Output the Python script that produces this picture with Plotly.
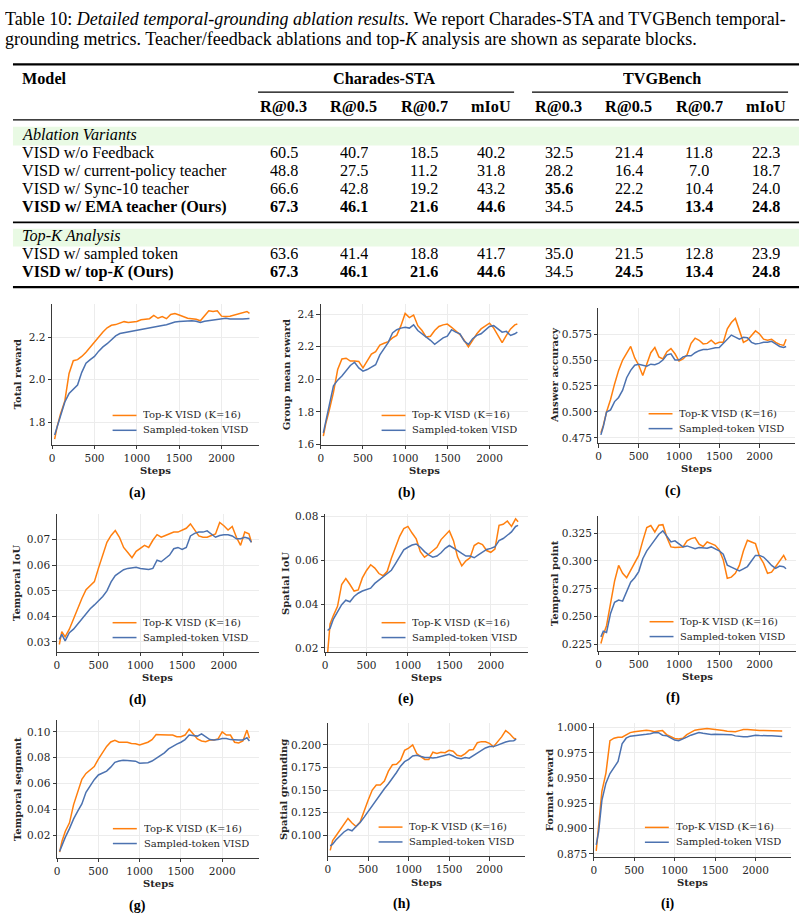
import plotly.graph_objects as go

W, H = 807, 923
ORANGE = "#ff7f0e"
BLUE = "#4c72b0"
PLOT_FONT = "DejaVu Serif, serif"
TEXT_FONT = "Liberation Serif, Times New Roman, Tinos, Nimbus Roman, Times, serif"
INK = "#262626"

# ---------------- table data ----------------
TITLE_LINE1 = "Table 10: <i>Detailed temporal-grounding ablation results.</i> We report Charades-STA and TVGBench temporal-"
TITLE_LINE2 = "grounding metrics. Teacher/feedback ablations and top-<i>K</i> analysis are shown as separate blocks."
DATASETS = ["Charades-STA", "TVGBench"]
METRICS = ["R@0.3", "R@0.5", "R@0.7", "mIoU"]

BLOCK1_TITLE = "Ablation Variants"
BLOCK1_MODELS = ["VISD w/o Feedback", "VISD w/ current-policy teacher",
                 "VISD w/ Sync-10 teacher", "<b>VISD w/ EMA teacher (Ours)</b>"]
BLOCK1_CHARADES = [[60.5, 40.7, 18.5, 40.2], [48.8, 27.5, 11.2, 31.8],
                   [66.6, 42.8, 19.2, 43.2], [67.3, 46.1, 21.6, 44.6]]
BLOCK1_TVG = [[32.5, 21.4, 11.8, 22.3], [28.2, 16.4, 7.0, 18.7],
              [35.6, 22.2, 10.4, 24.0], [34.5, 24.5, 13.4, 24.8]]
BLOCK1_BOLD_CH = [[0, 0, 0, 0], [0, 0, 0, 0], [0, 0, 0, 0], [1, 1, 1, 1]]
BLOCK1_BOLD_TVG = [[0, 0, 0, 0], [0, 0, 0, 0], [1, 0, 0, 0], [0, 1, 1, 1]]

BLOCK2_TITLE = "Top-<i>K</i> Analysis"
BLOCK2_MODELS = ["VISD w/ sampled token", "<b>VISD w/ top-<i>K</i> (Ours)</b>"]
BLOCK2_CHARADES = [[63.6, 41.4, 18.8, 41.7], [67.3, 46.1, 21.6, 44.6]]
BLOCK2_TVG = [[35.0, 21.5, 12.8, 23.9], [34.5, 24.5, 13.4, 24.8]]
BLOCK2_BOLD_CH = [[0, 0, 0, 0], [1, 1, 1, 1]]
BLOCK2_BOLD_TVG = [[0, 0, 0, 0], [0, 1, 1, 1]]

# ---------------- curve data ----------------
STEPS = [30, 60, 100, 150, 200, 250, 300, 350, 400, 450,
         500, 550, 600, 650, 700, 750, 800, 850, 900, 950,
         1000, 1050, 1100, 1150, 1200, 1250, 1300, 1350, 1400, 1450,
         1500, 1550, 1600, 1650, 1700, 1750, 1800, 1850, 1900, 1950,
         2000, 2050, 2100, 2150, 2200, 2250, 2300, 2330]

SERIES_NAMES = ["Top-K VISD (K=16)", "Sampled-token VISD"]

TOTAL_TOPK = [1.72, 1.78, 1.84, 1.90, 2.03, 2.09, 2.095, 2.11, 2.13, 2.155,
              2.175, 2.20, 2.225, 2.245, 2.257, 2.26, 2.268, 2.274, 2.27, 2.272,
              2.275, 2.283, 2.285, 2.288, 2.303, 2.29, 2.298, 2.288, 2.308, 2.312,
              2.305, 2.298, 2.29, 2.288, 2.285, 2.278, 2.30, 2.325, 2.322, 2.325,
              2.30, 2.298, 2.30, 2.306, 2.312, 2.315, 2.322, 2.313]
TOTAL_SAMPLED = [1.74, 1.78, 1.84, 1.895, 1.935, 1.955, 1.975, 2.035, 2.078, 2.095,
                 2.11, 2.135, 2.155, 2.17, 2.19, 2.207, 2.218, 2.222, 2.226, 2.231,
                 2.233, 2.237, 2.242, 2.245, 2.25, 2.254, 2.256, 2.259, 2.266, 2.272,
                 2.275, 2.277, 2.278, 2.278, 2.276, 2.27, 2.276, 2.279, 2.281, 2.287,
                 2.289, 2.29, 2.286, 2.285, 2.286, 2.287, 2.29, 2.289]

GROUP_TOPK = [1.65, 1.73, 1.81, 1.92, 2.06, 2.125, 2.13, 2.112, 2.112, 2.11,
              2.07, 2.11, 2.155, 2.17, 2.21, 2.222, 2.232, 2.255, 2.27, 2.33,
              2.405, 2.38, 2.395, 2.33, 2.30, 2.26, 2.265, 2.30, 2.325, 2.335,
              2.34, 2.32, 2.30, 2.275, 2.24, 2.20, 2.24, 2.28, 2.31, 2.33,
              2.345, 2.315, 2.27, 2.225, 2.27, 2.31, 2.335, 2.34]
GROUP_SAMPLED = [1.67, 1.75, 1.84, 1.96, 1.995, 2.02, 2.05, 2.085, 2.105, 2.07,
                 2.05, 2.06, 2.075, 2.09, 2.15, 2.185, 2.227, 2.285, 2.305, 2.315,
                 2.32, 2.315, 2.335, 2.30, 2.28, 2.265, 2.24, 2.215, 2.235, 2.255,
                 2.265, 2.305, 2.29, 2.28, 2.235, 2.215, 2.25, 2.27, 2.28, 2.30,
                 2.325, 2.33, 2.31, 2.29, 2.295, 2.27, 2.28, 2.29]

ANSWER_TOPK = [0.480, 0.487, 0.500, 0.512, 0.527, 0.540, 0.550, 0.557, 0.563, 0.552,
               0.545, 0.535, 0.546, 0.557, 0.562, 0.553, 0.551, 0.558, 0.561, 0.556,
               0.549, 0.551, 0.555, 0.566, 0.571, 0.569, 0.5655, 0.566, 0.569, 0.5655,
               0.567, 0.567, 0.580, 0.586, 0.590, 0.578, 0.567, 0.569, 0.574, 0.578,
               0.575, 0.570, 0.569, 0.570, 0.567, 0.565, 0.564, 0.570]
ANSWER_SAMPLED = [0.478, 0.486, 0.500, 0.502, 0.510, 0.514, 0.521, 0.533, 0.540, 0.545,
                  0.546, 0.545, 0.544, 0.546, 0.5455, 0.547, 0.550, 0.555, 0.556, 0.550,
                  0.550, 0.553, 0.554, 0.554, 0.557, 0.559, 0.560, 0.560, 0.561, 0.5617,
                  0.562, 0.566, 0.571, 0.574, 0.572, 0.570, 0.5718, 0.5715, 0.567, 0.5655,
                  0.566, 0.567, 0.567, 0.568, 0.5655, 0.563, 0.562, 0.563]

TIOU_TOPK = [0.029, 0.034, 0.032, 0.035, 0.039, 0.0433, 0.047, 0.0505, 0.052, 0.0536,
             0.059, 0.0645, 0.069, 0.0717, 0.0736, 0.071, 0.067, 0.065, 0.063, 0.0655,
             0.0665, 0.0678, 0.067, 0.0698, 0.072, 0.071, 0.0717, 0.0723, 0.073, 0.073,
             0.0736, 0.0745, 0.0762, 0.074, 0.0715, 0.071, 0.071, 0.0717, 0.0723, 0.0768,
             0.0755, 0.0738, 0.0752, 0.071, 0.0678, 0.073, 0.0723, 0.069]
TIOU_SAMPLED = [0.031, 0.033, 0.0304, 0.0336, 0.035, 0.037, 0.039, 0.0414, 0.043, 0.0445,
                0.0462, 0.0478, 0.050, 0.0535, 0.056, 0.0572, 0.0583, 0.0588, 0.059, 0.0592,
                0.0588, 0.0585, 0.0584, 0.0588, 0.062, 0.0614, 0.0626, 0.064, 0.0665, 0.067,
                0.0662, 0.067, 0.0715, 0.0725, 0.073, 0.073, 0.0735, 0.0722, 0.071, 0.0717,
                0.072, 0.072, 0.0715, 0.0704, 0.0704, 0.071, 0.0705, 0.069]

SIOU_TOPK = [0.0175, 0.031, 0.0348, 0.039, 0.049, 0.0517, 0.049, 0.046, 0.0465, 0.052,
             0.0554, 0.058, 0.0565, 0.054, 0.053, 0.055, 0.061, 0.0665, 0.071, 0.0745,
             0.0755, 0.0725, 0.0698, 0.064, 0.0615, 0.0628, 0.0645, 0.066, 0.0695, 0.0715,
             0.0735, 0.069, 0.0615, 0.0575, 0.0598, 0.0612, 0.0668, 0.068, 0.0672, 0.0645,
             0.0637, 0.0652, 0.076, 0.0765, 0.078, 0.0755, 0.079, 0.0777]
SIOU_SAMPLED = [0.028, 0.029, 0.0332, 0.0368, 0.0398, 0.0418, 0.0411, 0.0435, 0.045, 0.046,
                0.0468, 0.0473, 0.0495, 0.051, 0.0525, 0.054, 0.0555, 0.0585, 0.0618, 0.0648,
                0.066, 0.067, 0.0675, 0.066, 0.064, 0.0625, 0.0615, 0.062, 0.0635, 0.0655,
                0.0668, 0.0658, 0.0645, 0.0632, 0.062, 0.062, 0.0612, 0.0625, 0.0638, 0.065,
                0.0655, 0.0662, 0.069, 0.070, 0.0715, 0.073, 0.0755, 0.076]

TPOINT_TOPK = [0.226, 0.234, 0.242, 0.262, 0.282, 0.296, 0.289, 0.285, 0.292, 0.298,
               0.305, 0.318, 0.330, 0.3318, 0.326, 0.332, 0.3325, 0.321, 0.3126, 0.312,
               0.312, 0.3125, 0.318, 0.320, 0.321, 0.315, 0.313, 0.317, 0.3155, 0.314,
               0.310, 0.301, 0.2845, 0.2855, 0.289, 0.296, 0.309, 0.3185, 0.317, 0.3155,
               0.304, 0.298, 0.289, 0.290, 0.2948, 0.300, 0.305, 0.3007]
TPOINT_SAMPLED = [0.232, 0.237, 0.236, 0.253, 0.263, 0.265, 0.264, 0.272, 0.281, 0.285,
                  0.2905, 0.302, 0.309, 0.314, 0.319, 0.324, 0.327, 0.3215, 0.317, 0.318,
                  0.3155, 0.3126, 0.3135, 0.3125, 0.311, 0.312, 0.312, 0.3115, 0.3126, 0.311,
                  0.309, 0.306, 0.2963, 0.2945, 0.2925, 0.291, 0.293, 0.295, 0.300, 0.305,
                  0.305, 0.3035, 0.300, 0.296, 0.2933, 0.2955, 0.2948, 0.293]

TSEG_TOPK = [0.0075, 0.016, 0.0235, 0.030, 0.044, 0.0543, 0.0635, 0.068, 0.0705, 0.0733,
             0.079, 0.084, 0.0888, 0.0922, 0.0935, 0.092, 0.0918, 0.092, 0.0911, 0.0908,
             0.0898, 0.091, 0.092, 0.094, 0.098, 0.0978, 0.0975, 0.0975, 0.0975, 0.0962,
             0.0962, 0.0975, 0.102, 0.098, 0.0945, 0.093, 0.0924, 0.0937, 0.0937, 0.0945,
             0.100, 0.0975, 0.0975, 0.092, 0.0915, 0.093, 0.1013, 0.095]
TSEG_SAMPLED = [0.008, 0.013, 0.019, 0.0255, 0.033, 0.039, 0.0445, 0.0535, 0.0585, 0.0632,
                0.0668, 0.0685, 0.0698, 0.0728, 0.0765, 0.0776, 0.0782, 0.078, 0.0776, 0.0774,
                0.0759, 0.0759, 0.0762, 0.0775, 0.0795, 0.0815, 0.0838, 0.0868, 0.089, 0.0905,
                0.092, 0.094, 0.0975, 0.0972, 0.0967, 0.0985, 0.096, 0.094, 0.0937, 0.094,
                0.0949, 0.0949, 0.094, 0.0937, 0.0937, 0.0937, 0.0954, 0.093]

SGROUND_TOPK = [0.083, 0.094, 0.099, 0.1055, 0.1125, 0.1185, 0.1135, 0.1095, 0.1145, 0.128,
                0.139, 0.150, 0.1555, 0.1555, 0.160, 0.171, 0.178, 0.1785, 0.183, 0.194,
                0.1965, 0.200, 0.1905, 0.187, 0.184, 0.184, 0.192, 0.1905, 0.192, 0.1915,
                0.194, 0.193, 0.1885, 0.1875, 0.1905, 0.1945, 0.195, 0.2025, 0.2037, 0.2035,
                0.2018, 0.198, 0.203, 0.209, 0.216, 0.2125, 0.2075, 0.2066]
SGROUND_SAMPLED = [0.088, 0.090, 0.0945, 0.099, 0.1035, 0.1065, 0.1048, 0.1095, 0.114, 0.120,
                   0.1265, 0.1328, 0.1382, 0.145, 0.1515, 0.157, 0.163, 0.1695, 0.1765, 0.1815,
                   0.184, 0.1878, 0.1885, 0.187, 0.1861, 0.1861, 0.1855, 0.1862, 0.1875, 0.189,
                   0.1897, 0.1878, 0.1855, 0.1848, 0.186, 0.1853, 0.188, 0.191, 0.194, 0.1967,
                   0.1982, 0.1982, 0.1998, 0.2018, 0.2033, 0.2044, 0.2048, 0.2066]

FORMAT_TOPK = [0.878, 0.905, 0.937, 0.955, 0.987, 0.9895, 0.9905, 0.9905, 0.993, 0.995,
               0.9958, 0.9962, 0.9968, 0.9974, 0.9968, 0.9958, 0.9965, 0.997, 0.993, 0.991,
               0.9892, 0.9886, 0.9895, 0.993, 0.9955, 0.9974, 0.998, 0.9985, 0.999, 0.9987,
               0.9984, 0.9978, 0.9972, 0.9964, 0.996, 0.9958, 0.997, 0.998, 0.998, 0.9975,
               0.9972, 0.997, 0.9971, 0.9971, 0.9968, 0.9968, 0.9967, 0.9967]
FORMAT_SAMPLED = [0.884, 0.897, 0.928, 0.945, 0.9545, 0.960, 0.9665, 0.984, 0.9895, 0.9915,
                  0.9918, 0.9925, 0.9931, 0.9934, 0.994, 0.9951, 0.995, 0.9925, 0.992, 0.990,
                  0.9876, 0.987, 0.9885, 0.9905, 0.9925, 0.9937, 0.9951, 0.9943, 0.9935, 0.9932,
                  0.9935, 0.9935, 0.9935, 0.9932, 0.993, 0.9918, 0.9912, 0.9909, 0.9909, 0.9915,
                  0.9925, 0.9922, 0.9918, 0.9918, 0.9918, 0.9915, 0.9912, 0.9912]

Y_LABELS = ["Total reward", "Group mean reward", "Answer accuracy", "Temporal IoU",
            "Spatial IoU", "Temporal point", "Temporal segment", "Spatial grounding",
            "Format reward"]
CAPTIONS = ["(a)", "(b)", "(c)", "(d)", "(e)", "(f)", "(g)", "(h)", "(i)"]
X_TICKS = [0, 500, 1000, 1500, 2000]
Y_TICKS = [[1.8, 2.0, 2.2], [1.6, 1.8, 2.0, 2.2, 2.4],
           [0.475, 0.500, 0.525, 0.550, 0.575], [0.03, 0.04, 0.05, 0.06, 0.07],
           [0.02, 0.04, 0.06, 0.08], [0.225, 0.250, 0.275, 0.300, 0.325],
           [0.02, 0.04, 0.06, 0.08, 0.10], [0.100, 0.125, 0.150, 0.175, 0.200],
           [0.875, 0.900, 0.925, 0.950, 0.975, 1.000]]
SERIES = [(TOTAL_TOPK, TOTAL_SAMPLED), (GROUP_TOPK, GROUP_SAMPLED),
          (ANSWER_TOPK, ANSWER_SAMPLED), (TIOU_TOPK, TIOU_SAMPLED),
          (SIOU_TOPK, SIOU_SAMPLED), (TPOINT_TOPK, TPOINT_SAMPLED),
          (TSEG_TOPK, TSEG_SAMPLED), (SGROUND_TOPK, SGROUND_SAMPLED),
          (FORMAT_TOPK, FORMAT_SAMPLED)]

# ---------------- layout geometry (pixels) ----------------
BOXES = [(49.3, 257, 303, 445), (319, 527, 303, 445), (597.7, 795, 306.7, 443.3),
         (54, 257, 515, 654.3), (323.3, 527, 515, 654.3), (597.7, 796, 516.7, 653.3),
         (54.3, 257.3, 723.3, 862.3), (326, 524, 725.7, 860.7), (593, 791.3, 725.7, 861)]
X_MAX = [2443, 2457, 2441, 2421, 2450, 2454, 2450, 2440, 2443]
Y_RANGES = [(1.694, 2.357), (1.598, 2.463), (0.4702, 0.6003), (0.0261, 0.0801),
            (0.0182, 0.0812), (0.2194, 0.3406), (0.003, 0.1089), (0.0765, 0.2248),
            (0.8724, 1.0049)]
Y_FORMATS = [".1f", ".1f", ".3f", ".2f", ".2f", ".3f", ".2f", ".3f", ".3f"]
YLABEL_X = [14, 284, 553.7, 14, 284, 553.7, 14, 281.7, 548.7]
CAPTION_POS = [(135, 494), (405, 494), (672, 491.7), (135, 702.7), (405, 701.7),
               (672, 701), (135, 911), (400, 909), (667, 909)]


def fx(px):
    return px / W


def fy(py):
    return 1 - py / H


fig = go.Figure()
annotations = []
shapes = []


def text(px, py, s, size, family, xanchor="center", weight="normal", color="black",
         angle=0, box_h=None):
    a = dict(x=fx(px), y=fy(py), xref="paper", yref="paper", text=s,
             showarrow=False, xanchor=xanchor, yanchor="middle", textangle=angle,
             borderpad=0, borderwidth=0,
             font=dict(family=family, size=size, color=color, weight=weight))
    if box_h is not None:
        a["height"] = box_h
    annotations.append(a)


def hline(x0, x1, py, width, color="black"):
    shapes.append(dict(type="line", xref="paper", yref="paper", x0=fx(x0), x1=fx(x1),
                       y0=fy(py), y1=fy(py), line=dict(color=color, width=width)))


def band(x0, x1, y0, y1, color):
    shapes.append(dict(type="rect", xref="paper", yref="paper", x0=fx(x0), x1=fx(x1),
                       y0=fy(y1), y1=fy(y0), fillcolor=color, line=dict(width=0), layer="below"))


# ---------------- table ----------------
TS = 16.2
RH = 18
LX = 19     # left edge of row labels
text(2, 15, TITLE_LINE1, 18.0, TEXT_FONT, xanchor="left", box_h=20)
text(2, 35, TITLE_LINE2, 18.0, TEXT_FONT, xanchor="left", box_h=20)

TL, TR = 10, 799
hline(TL, TR, 61, 2.2)
text(LX, 76, "<b>Model</b>", TS, TEXT_FONT, xanchor="left", box_h=RH)
text(383, 76, "<b>%s</b>" % DATASETS[0], TS, TEXT_FONT, box_h=RH)
text(661, 76, "<b>%s</b>" % DATASETS[1], TS, TEXT_FONT, box_h=RH)
hline(256, 513, 89, 1.1)
hline(531, 788, 89, 1.1)
COLS = [282, 352, 423, 490, 558, 628, 699, 766]
for j, m in enumerate(METRICS + METRICS):
    text(COLS[j], 104, "<b>%s</b>" % m, TS, TEXT_FONT, box_h=RH)
hline(TL, TR, 117, 1.1)

GREEN = "#e9fae4"
band(TL, TR, 124, 143, GREEN)
text(LX, 132.0, "<i>%s</i>" % BLOCK1_TITLE, TS, TEXT_FONT, xanchor="left", box_h=RH)


def fmt(v, b):
    s = "%.1f" % v
    return "<b>%s</b>" % s if b else s


ROWS1_Y = [150.3, 168.6, 186.9, 205.2]
for r, name in enumerate(BLOCK1_MODELS):
    text(LX, ROWS1_Y[r], name, TS, TEXT_FONT, xanchor="left", box_h=RH)
    vals = BLOCK1_CHARADES[r] + BLOCK1_TVG[r]
    bolds = BLOCK1_BOLD_CH[r] + BLOCK1_BOLD_TVG[r]
    for j in range(8):
        text(COLS[j], ROWS1_Y[r], fmt(vals[j], bolds[j]), TS, TEXT_FONT, box_h=RH)

hline(TL, TR, 220.5, 1.6)
band(TL, TR, 227, 245, GREEN)
text(LX, 234.3, "<i>%s</i>" % BLOCK2_TITLE, TS, TEXT_FONT, xanchor="left", box_h=RH)
ROWS2_Y = [252.6, 270.9]
for r, name in enumerate(BLOCK2_MODELS):
    text(LX, ROWS2_Y[r], name, TS, TEXT_FONT, xanchor="left", box_h=RH)
    vals = BLOCK2_CHARADES[r] + BLOCK2_TVG[r]
    bolds = BLOCK2_BOLD_CH[r] + BLOCK2_BOLD_TVG[r]
    for j in range(8):
        text(COLS[j], ROWS2_Y[r], fmt(vals[j], bolds[j]), TS, TEXT_FONT, box_h=RH)
hline(TL, TR, 286, 2.2)

# ---------------- panels ----------------
layout_axes = {}
for i in range(9):
    k = i + 1
    sx = "" if k == 1 else str(k)
    x0, x1, y0, y1 = BOXES[i]
    topk, sampled = SERIES[i]
    fig.add_trace(go.Scatter(x=STEPS, y=topk, mode="lines", name=SERIES_NAMES[0],
                             line=dict(color=ORANGE, width=1.5), showlegend=False,
                             xaxis="x" + sx, yaxis="y" + sx))
    fig.add_trace(go.Scatter(x=STEPS, y=sampled, mode="lines", name=SERIES_NAMES[1],
                             line=dict(color=BLUE, width=1.5), showlegend=False,
                             xaxis="x" + sx, yaxis="y" + sx))
    common = dict(showgrid=True, gridcolor="#ececec", gridwidth=0.8, zeroline=False,
                  showline=True, linecolor="#3a3a3a", linewidth=1.1, ticks="outside",
                  ticklen=3.5, tickwidth=1, tickcolor="#3a3a3a",
                  tickfont=dict(family=PLOT_FONT, size=10.5, color=INK))
    layout_axes["xaxis" + sx] = dict(domain=[fx(x0), fx(x1)], range=[0, X_MAX[i]],
                                     anchor="y" + sx, tickvals=X_TICKS, **common)
    layout_axes["yaxis" + sx] = dict(domain=[fy(y1), fy(y0)], range=list(Y_RANGES[i]),
                                     anchor="x" + sx, tickvals=Y_TICKS[i],
                                     tickformat=Y_FORMATS[i], **common)
    # axis titles
    text(YLABEL_X[i], (y0 + y1) / 2, Y_LABELS[i], 10, PLOT_FONT, weight="bold",
         color=INK, angle=-90)
    text((x0 + x1) / 2, y1 + 26, "Steps", 10, PLOT_FONT, weight="bold", color=INK)
    text(CAPTION_POS[i][0], CAPTION_POS[i][1], CAPTIONS[i], 14, TEXT_FONT, weight="bold")
    # legend (lower right)
    for n, (col, dy) in enumerate([(ORANGE, 29.5), (BLUE, 14.5)]):
        shapes.append(dict(type="line", xref="paper", yref="paper",
                           x0=fx(x1 - 147), x1=fx(x1 - 123), y0=fy(y1 - dy), y1=fy(y1 - dy),
                           line=dict(color=col, width=1.5)))
        text(x1 - 116, y1 - dy - 0.5, SERIES_NAMES[n], 10, PLOT_FONT, xanchor="left",
             color=INK, box_h=13)

fig.update_layout(width=W, height=H, autosize=False,
                  margin=dict(l=0, r=0, t=0, b=0),
                  paper_bgcolor="white", plot_bgcolor="white",
                  showlegend=False, annotations=annotations, shapes=shapes,
                  **layout_axes)

fig.write_html("out.html")
